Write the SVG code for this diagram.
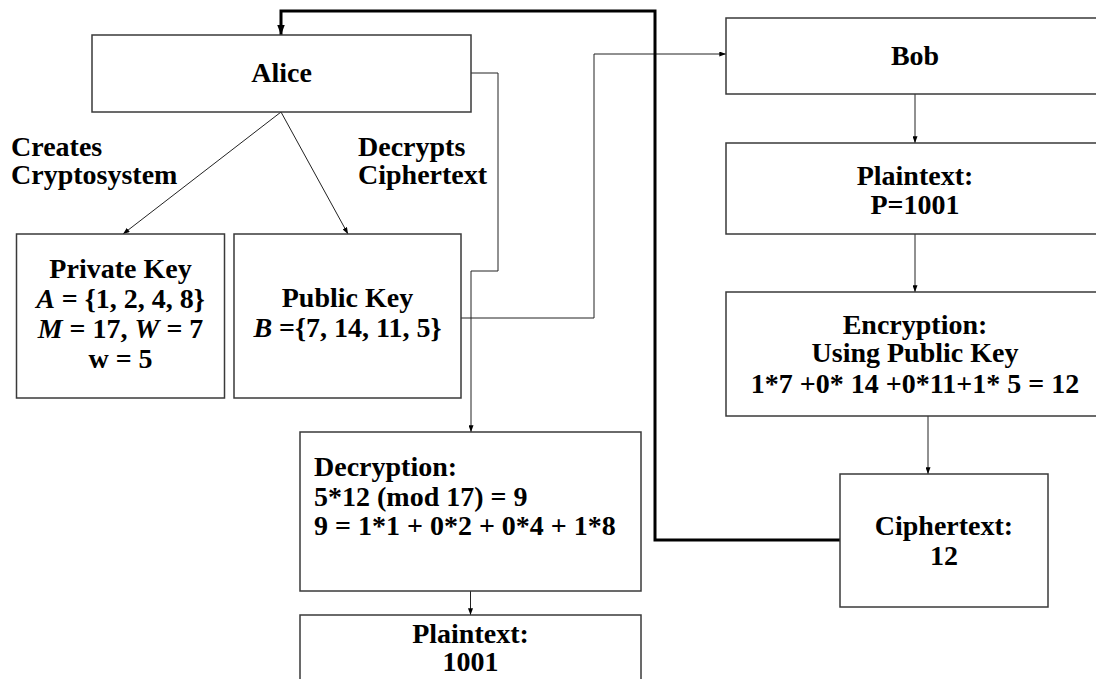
<svg xmlns="http://www.w3.org/2000/svg" width="1096" height="679" viewBox="0 0 1096 679">
<defs>
<style>
.box{fill:#fff;stroke:#3a3a3a;stroke-width:1.5}
.t{font-family:"Liberation Serif","Times New Roman",serif;font-weight:bold;font-size:28px;fill:#000}
.c{text-anchor:middle}
.i{font-style:italic}
.ln{fill:none;stroke:#222;stroke-width:1}
.thick{fill:none;stroke:#000;stroke-width:3}
</style>
<marker id="ah" viewBox="0 0 8 6" refX="8" refY="3" markerWidth="7" markerHeight="5" markerUnits="userSpaceOnUse" orient="auto">
<path d="M0,0 L8,3 L0,6 z" fill="#000"/>
</marker>
<marker id="ahb" viewBox="0 0 8 6" refX="8" refY="3" markerWidth="10" markerHeight="8" markerUnits="userSpaceOnUse" orient="auto">
<path d="M0,0 L8,3 L0,6 z" fill="#000"/>
</marker>
</defs>
<rect width="1096" height="679" fill="#fff"/>

<g id="labels">
<text class="t" x="11" y="156">Creates</text>
<text class="t" x="11" y="184">Cryptosystem</text>
<text class="t" x="358" y="156">Decrypts</text>
<text class="t" x="358" y="184">Ciphertext</text>
</g>

<g id="connectors">
<path class="ln" d="M281,112 L123,234" marker-end="url(#ah)"/>
<path class="ln" d="M281,112 L348,234" marker-end="url(#ah)"/>
<path class="ln" d="M471,73 H498 V271 H471 V432" marker-end="url(#ah)"/>
<path class="ln" d="M461,318 H594 V54 H726" marker-end="url(#ah)"/>
<path class="ln" d="M915,94 V143" marker-end="url(#ah)"/>
<path class="ln" d="M915,234 V292" marker-end="url(#ah)"/>
<path class="ln" d="M928,416 V474" marker-end="url(#ah)"/>
<path class="ln" d="M470.5,591 V615" marker-end="url(#ah)"/>
<path class="thick" d="M840,540 H655 V11 H281 V35" marker-end="url(#ahb)"/>
</g>

<g id="alice">
<rect class="box" x="92" y="35" width="379" height="77"/>
<text class="t c" x="281.5" y="82">Alice</text>
</g>

<g id="private-key">
<rect class="box" x="16.5" y="234" width="208" height="164"/>
<text class="t c" x="120.5" y="278">Private Key</text>
<text class="t c" x="120.5" y="308"><tspan class="i">A</tspan> = {1, 2, 4, 8}</text>
<text class="t c" x="120.5" y="338"><tspan class="i">M</tspan> = 17, <tspan class="i">W</tspan> = 7</text>
<text class="t c" x="120.5" y="368">w = 5</text>
</g>

<g id="public-key">
<rect class="box" x="234" y="234" width="227" height="164"/>
<text class="t c" x="347.5" y="307">Public Key</text>
<text class="t c" x="347.5" y="337"><tspan class="i">B</tspan> ={7, 14, 11, 5}</text>
</g>

<g id="decryption">
<rect class="box" x="300" y="432" width="341" height="159"/>
<text class="t" x="314" y="476">Decryption:</text>
<text class="t" x="314" y="506">5*12 (mod 17) = 9</text>
<text class="t" x="314" y="535">9 = 1*1 + 0*2 + 0*4 + 1*8</text>
</g>

<g id="plaintext-alice">
<rect class="box" x="300" y="615" width="341" height="90"/>
<text class="t c" x="470.5" y="643">Plaintext:</text>
<text class="t c" x="470.5" y="671">1001</text>
</g>

<g id="bob">
<rect class="box" x="726" y="18" width="380" height="76"/>
<text class="t c" x="915" y="65">Bob</text>
</g>

<g id="plaintext-bob">
<rect class="box" x="726" y="143" width="380" height="91"/>
<text class="t c" x="915" y="185">Plaintext:</text>
<text class="t c" x="915" y="214">P=1001</text>
</g>

<g id="encryption">
<rect class="box" x="726" y="292" width="380" height="124"/>
<text class="t c" x="915" y="334">Encryption:</text>
<text class="t c" x="915" y="362">Using Public Key</text>
<text class="t c" x="915" y="393">1*7 +0* 14 +0*11+1* 5 = 12</text>
</g>

<g id="ciphertext">
<rect class="box" x="840" y="474" width="208" height="133"/>
<text class="t c" x="944" y="535">Ciphertext:</text>
<text class="t c" x="944" y="565">12</text>
</g>
</svg>
